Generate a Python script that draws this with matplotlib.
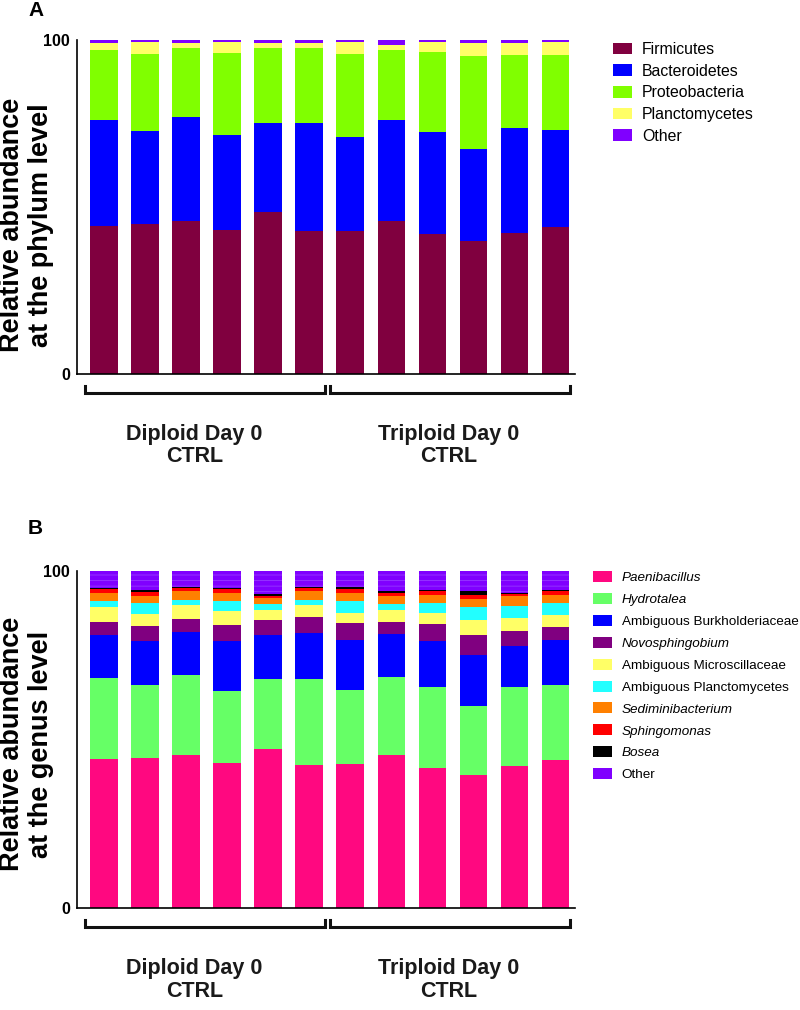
import matplotlib
matplotlib.use("Agg")
import matplotlib.pyplot as plt
import numpy as np
from matplotlib.patches import Patch

plt.rcParams['font.family'] = ['Liberation Sans', 'DejaVu Sans']
plt.rcParams['hatch.linewidth'] = 0.5

# 12 samples: 6 diploid, 6 triploid
samples = np.arange(12)
groups = ["Diploid Day 0\nCTRL", "Triploid Day 0\nCTRL"]

# --- phylum level (%), stacked bottom -> top
phylum_names = ["Firmicutes", "Bacteroidetes", "Proteobacteria", "Planctomycetes", "Other"]
firmicutes = [44.3, 44.8, 45.7, 43.2, 48.4, 42.7, 42.8, 45.9, 42.0, 39.8, 42.3, 44.0]
bacteroidetes = [31.6, 27.9, 31.3, 28.3, 26.6, 32.4, 28.1, 30.0, 30.4, 27.5, 31.3, 29.0]
proteobacteria = [21.2, 23.0, 20.5, 24.6, 22.5, 22.6, 24.9, 21.0, 23.9, 28.0, 21.8, 22.6]
planctomycetes = [2.0, 3.7, 1.6, 3.2, 1.6, 1.5, 3.5, 1.7, 3.0, 3.9, 3.8, 3.9]
phylum_other = [0.9, 0.6, 0.9, 0.7, 0.9, 0.8, 0.7, 1.4, 0.7, 0.8, 0.8, 0.5]
phylum_colors = ["#80003f", "#0000ff", "#80ff00", "#ffff66", "#8000ff"]

# --- genus level (%), stacked bottom -> top
genus_names = ["Paenibacillus", "Hydrotalea", "Ambiguous Burkholderiaceae", "Novosphingobium",
               "Ambiguous Microscillaceae", "Ambiguous Planctomycetes", "Sediminibacterium",
               "Sphingomonas", "Bosea", "Other"]
genus_italic = [True, True, False, True, False, False, True, True, True, False]
paenibacillus = [44.1, 44.5, 45.3, 42.9, 47.1, 42.3, 42.6, 45.2, 41.5, 39.5, 42.1, 43.8]
hydrotalea = [24.1, 21.7, 23.7, 21.5, 20.9, 25.5, 22.0, 23.2, 23.9, 20.3, 23.4, 22.2]
burkholderiaceae = [12.7, 13.0, 12.8, 14.8, 12.9, 13.9, 15.0, 12.8, 13.7, 15.3, 12.2, 13.5]
novosphingobium = [4.0, 4.4, 3.9, 4.8, 4.6, 4.5, 4.9, 3.7, 5.0, 5.9, 4.5, 3.9]
microscillaceae = [4.4, 3.5, 4.1, 4.0, 3.0, 3.8, 3.0, 3.6, 3.3, 4.4, 3.9, 3.5]
planctomycetes_g = [1.8, 3.4, 1.5, 3.0, 1.7, 1.5, 3.5, 1.7, 3.0, 3.8, 3.6, 3.6]
sediminibacterium = [2.5, 2.0, 2.7, 2.5, 1.9, 2.5, 2.5, 2.4, 2.6, 2.5, 2.8, 2.5]
sphingomonas = [1.0, 1.3, 0.9, 1.1, 0.6, 0.9, 1.2, 1.0, 1.0, 1.3, 0.7, 1.1]
bosea = [0.4, 0.4, 0.3, 0.3, 0.5, 0.3, 0.4, 0.5, 0.3, 0.9, 0.4, 0.3]
genus_other = [5.0, 5.9, 4.7, 5.0, 6.8, 4.7, 4.8, 5.9, 5.6, 6.1, 6.3, 5.6]
genus_colors = ["#ff0880", "#66ff66", "#0000ff", "#800080", "#ffff66",
                "#22ffff", "#ff8000", "#ff0000", "#000000", "#8000ff"]

phylum_data = [firmicutes, bacteroidetes, proteobacteria, planctomycetes, phylum_other]
genus_data = [paenibacillus, hydrotalea, burkholderiaceae, novosphingobium, microscillaceae,
              planctomycetes_g, sediminibacterium, sphingomonas, bosea, genus_other]

fig = plt.figure(figsize=(8, 10.1), dpi=100)
ax1 = fig.add_axes([0.096, 0.6297, 0.6225, 0.3307])
ax2 = fig.add_axes([0.096, 0.1013, 0.6225, 0.3334])


def stacked(ax, data, colors, striped_last=False):
    bottom = np.zeros(len(samples))
    for k, (vals, col) in enumerate(zip(data, colors)):
        vals = np.array(vals)
        if striped_last and k == len(data) - 1:
            # many small genera lumped together -> faint stripes
            ax.bar(samples, vals, 0.67, bottom=bottom, color=col, edgecolor="#9a45ff",
                   linewidth=0, hatch="---")
        else:
            ax.bar(samples, vals, 0.67, bottom=bottom, color=col, linewidth=0)
        bottom += vals


def style(ax, ylab, ylab_y):
    ax.set_xlim(-0.66, 11.47)
    ax.set_ylim(0, 100)
    ax.set_xticks([])
    ax.set_yticks([0, 100])
    ax.set_yticklabels(["0", "100"], fontsize=11.5, fontweight="bold")
    ax.tick_params(axis="y", length=0, pad=5)
    for s in ["top", "right"]:
        ax.spines[s].set_visible(False)
    for s in ["left", "bottom"]:
        ax.spines[s].set_linewidth(1.2)
    fig.text(0.033, ylab_y, ylab, rotation=90, ha="center", va="center",
             multialignment="center", fontsize=19.5, fontweight="bold", linespacing=1.15)
    # group brackets and labels
    tr = ax.get_xaxis_transform()
    for (x0, x1), xc, lab in zip([(-0.46, 5.38), (5.5, 11.35)], [2.2, 8.4], groups):
        ax.plot([x0, x0, x1, x1], [-0.036, -0.057, -0.057, -0.036], color="#111111",
                lw=2.2, transform=tr, clip_on=False, solid_joinstyle="miter")
        ax.text(xc, -0.214, lab, transform=tr, ha="center", va="center",
                fontsize=15.5, fontweight="bold", color="#1a1a1a", linespacing=1.1)


stacked(ax1, phylum_data, phylum_colors)
style(ax1, "Relative abundance\nat the phylum level", 1 - 225 / 1010)
stacked(ax2, genus_data, genus_colors, striped_last=True)
style(ax2, "Relative abundance\nat the genus level", 1 - 744 / 1010)

# legends
h1 = [Patch(facecolor=c, edgecolor="none") for c in phylum_colors]
leg1 = fig.legend(h1, phylum_names, loc="upper left", bbox_to_anchor=(613 / 800, 1 - 42 / 1010),
                  frameon=False, fontsize=11.4, handlelength=1.2, handleheight=0.76,
                  handletextpad=0.63, labelspacing=0.42, borderpad=0, borderaxespad=0)

h2 = [Patch(facecolor=c, edgecolor="none") for c in genus_colors]
leg2 = fig.legend(h2, genus_names, loc="upper left", bbox_to_anchor=(593 / 800, 1 - 571 / 1010),
                  frameon=False, fontsize=9.7, handlelength=1.4, handleheight=0.88,
                  handletextpad=0.72, labelspacing=0.65, borderpad=0, borderaxespad=0)
for t, it in zip(leg2.get_texts(), genus_italic):
    if it:
        t.set_style("italic")

fig.text(28 / 800, 1 - 11 / 1010, "A", fontsize=15, fontweight="bold", va="center")
fig.text(28 / 800, 1 - 529 / 1010, "B", fontsize=15, fontweight="bold", va="center")

fig.savefig("out.png", dpi=100)
